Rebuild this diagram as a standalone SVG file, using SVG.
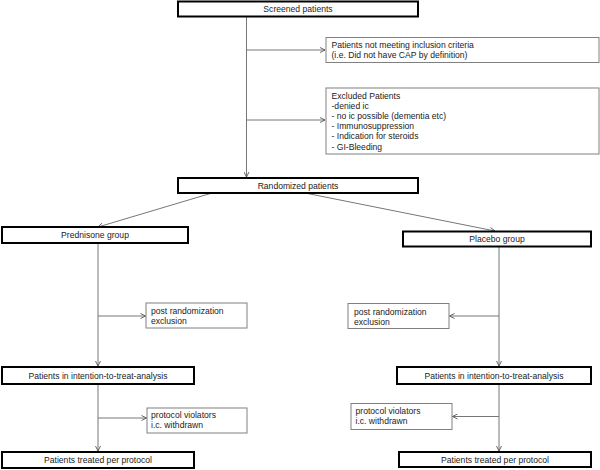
<svg xmlns="http://www.w3.org/2000/svg" width="600" height="470" viewBox="0 0 600 470">
<defs>
<style>
.main{fill:#fff;stroke:#000;stroke-width:2}
.side{fill:#fff;stroke:#808080;stroke-width:1}
.t{font-family:"Liberation Sans",Arial,sans-serif;font-size:8.6px;fill:#222}
.c{text-anchor:middle}
.ln{fill:none;stroke:#777;stroke-width:1;marker-end:url(#ah)}
</style>
<marker id="ah" viewBox="0 0 6 6" refX="5.5" refY="3" markerWidth="6" markerHeight="6" markerUnits="userSpaceOnUse" orient="auto">
<path d="M0.5,0.5 L5.5,3 L0.5,5.5" fill="none" stroke="#555" stroke-width="0.9"/>
</marker>
</defs>
<rect width="600" height="470" fill="#fff"/>
<g id="connectors">
<path class="ln" d="M246.5,17 V177"/>
<path class="ln" d="M246.5,50 H325"/>
<path class="ln" d="M246.5,120 H325"/>
<path class="ln" d="M212,193 L98,227"/>
<path class="ln" d="M305,193 L495,231"/>
<path class="ln" d="M98,243 V366"/>
<path class="ln" d="M98,316 H145.5"/>
<path class="ln" d="M98,384 V451"/>
<path class="ln" d="M98,418 H146.5"/>
<path class="ln" d="M499,247 V366"/>
<path class="ln" d="M499,316 H449.5"/>
<path class="ln" d="M499,384 V451"/>
<path class="ln" d="M499,416.5 H452.5"/>
</g>
<g id="screened"><rect class="main" x="178" y="1.5" width="240" height="15"/><text class="t c" x="298" y="12">Screened patients</text></g>
<g id="not-meeting"><rect class="side" x="326" y="37.5" width="273" height="25"/><text class="t" x="331.5" y="48">Patients not meeting inclusion criteria</text><text class="t" x="331.5" y="58">(i.e. Did not have CAP by definition)</text></g>
<g id="excluded"><rect class="side" x="326" y="88" width="273" height="66"/>
<text class="t" x="331.5" y="99">Excluded Patients</text>
<text class="t" x="331.5" y="109">-denied ic</text>
<text class="t" x="331.5" y="119">- no ic possible (dementia etc)</text>
<text class="t" x="331.5" y="129">- Immunosuppression</text>
<text class="t" x="331.5" y="139">- Indication for steroids</text>
<text class="t" x="331.5" y="149.5">- GI-Bleeding</text></g>
<g id="randomized"><rect class="main" x="178" y="178" width="240" height="15"/><text class="t c" x="298" y="188.5">Randomized patients</text></g>
<g id="prednisone"><rect class="main" x="2" y="227" width="186" height="16"/><text class="t c" x="95" y="238">Prednisone group</text></g>
<g id="placebo"><rect class="main" x="403" y="231.5" width="188" height="15"/><text class="t c" x="497" y="242">Placebo group</text></g>
<g id="post-left"><rect class="side" x="146" y="303" width="101" height="25"/><text class="t" x="151" y="314">post randomization</text><text class="t" x="151" y="324">exclusion</text></g>
<g id="post-right"><rect class="side" x="348" y="303.5" width="101" height="25"/><text class="t" x="354" y="314.5">post randomization</text><text class="t" x="354" y="324.5">exclusion</text></g>
<g id="itt-left"><rect class="main" x="2" y="367" width="192" height="17"/><text class="t c" x="98" y="378.5">Patients in intention-to-treat-analysis</text></g>
<g id="itt-right"><rect class="main" x="397" y="367" width="194" height="17"/><text class="t c" x="494" y="378.5">Patients in intention-to-treat-analysis</text></g>
<g id="pv-left"><rect class="side" x="147" y="408" width="100" height="25"/><text class="t" x="151" y="418">protocol violators</text><text class="t" x="151" y="428">i.c. withdrawn</text></g>
<g id="pv-right"><rect class="side" x="351" y="403.5" width="101" height="26"/><text class="t" x="355.5" y="414">protocol violators</text><text class="t" x="355.5" y="424">i.c. withdrawn</text></g>
<g id="tpp-left"><rect class="main" x="2" y="452" width="192" height="16"/><text class="t c" x="98" y="463">Patients treated per protocol</text></g>
<g id="tpp-right"><rect class="main" x="399" y="452" width="192" height="15"/><text class="t c" x="495" y="463">Patients treated per protocol</text></g>
</svg>
